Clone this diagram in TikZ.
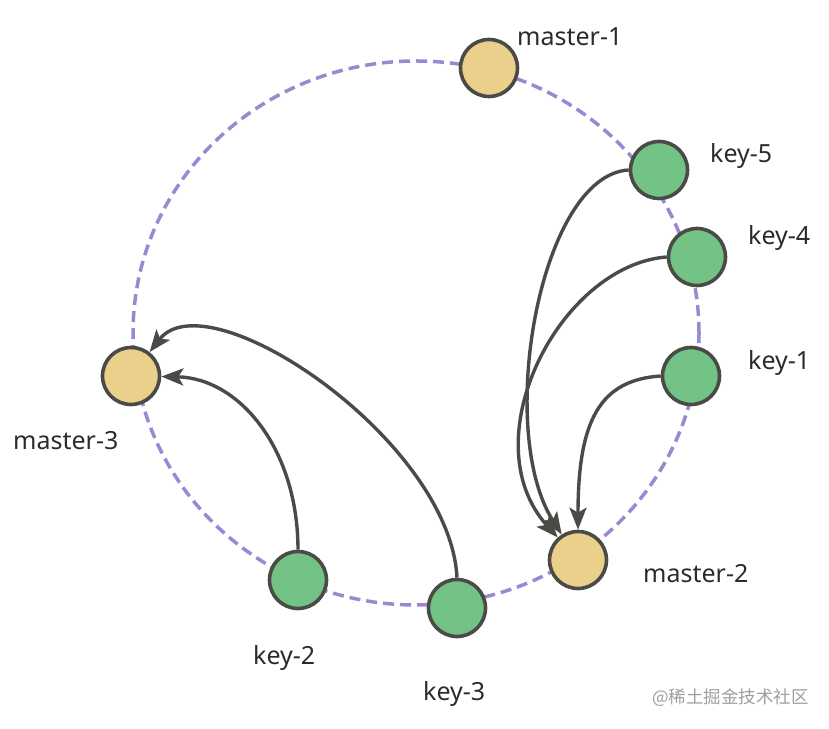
\documentclass[tikz,border=0pt]{standalone}
\usepackage{fontspec}
\setmainfont{Noto Sans}
\newfontfamily\cjkfont{Noto Sans CJK SC}
\usetikzlibrary{arrows.meta}
\definecolor{ringpurple}{HTML}{9A88D2}
\definecolor{masterfill}{HTML}{EBD08C}
\definecolor{keyfill}{HTML}{73C386}
\definecolor{edgegray}{HTML}{4A4A46}
\definecolor{textgray}{HTML}{2B2B2B}
\begin{document}
\begin{tikzpicture}[>={Stealth[length=22bp,width=17bp,inset=5bp]},line join=round,
  ring/.style={draw=ringpurple,line width=3.5bp,dash pattern=on 11bp off 6bp},
  hashnode/.style={draw=edgegray,line width=3.6bp,circle,minimum size=57bp,inner sep=0pt},
  masternode/.style={hashnode,fill=masterfill},
  keynode/.style={hashnode,fill=keyfill},
  moveline/.style={draw=edgegray,line width=3.4bp},
  lbl/.style={anchor=base west,inner sep=0pt,text=textgray,font=\fontsize{25bp}{30bp}\selectfont},
]
\useasboundingbox (0bp,0bp) rectangle (829bp,729bp);
%%
\draw [ring] (416bp,396bp) ellipse (283bp and 272bp);
%
\node (master_1) at (489bp,661bp) [masternode] {};
  \node (key_5) at (659bp,559bp) [keynode] {};
  \node (key_4) at (697bp,472bp) [keynode] {};
  \node (key_1) at (691bp,353bp) [keynode] {};
  \node (master_2) at (578bp,169bp) [masternode] {};
  \node (key_3) at (457bp,121bp) [keynode] {};
  \node (key_2) at (298bp,149bp) [keynode] {};
  \node (master_3) at (131bp,353bp) [masternode] {};
%
\node (lbl_master_1) at (517bp,683bp) [lbl] {master-1};
  \node (lbl_key_5) at (710bp,566bp) [lbl] {key-5};
  \node (lbl_key_4) at (748bp,484bp) [lbl] {key-4};
  \node (lbl_key_1) at (748bp,359bp) [lbl] {key-1};
  \node (lbl_master_2) at (643bp,146bp) [lbl] {master-2};
  \node (lbl_key_3) at (423bp,29bp) [lbl] {key-3};
  \node (lbl_key_2) at (253bp,64bp) [lbl] {key-2};
  \node (lbl_master_3) at (13bp,279bp) [lbl] {master-3};
  \node (watermark) at (652bp,26bp) [anchor=base west,inner sep=0pt,text=black!38,font=\cjkfont\fontsize{17.5bp}{20bp}\selectfont] {@稀土掘金技术社区};
%
\draw [moveline,->] (key_5.west) .. controls (540bp,554bp) and (495bp,299bp) .. (master_2);
  \draw [moveline,->] (key_4.west) .. controls (560bp,464bp) and (470bp,289bp) .. (master_2);
  \draw [moveline,->] (key_1.west) .. controls (600bp,349bp) and (578bp,309bp) .. (master_2);
  \draw [moveline,->] (key_2.north) .. controls (298bp,279bp) and (240bp,351bp) .. (master_3);
  \draw [moveline,->] (key_3.north) .. controls (450bp,289bp) and (208bp,452bp) .. (master_3);
%
\end{tikzpicture}
\end{document}
